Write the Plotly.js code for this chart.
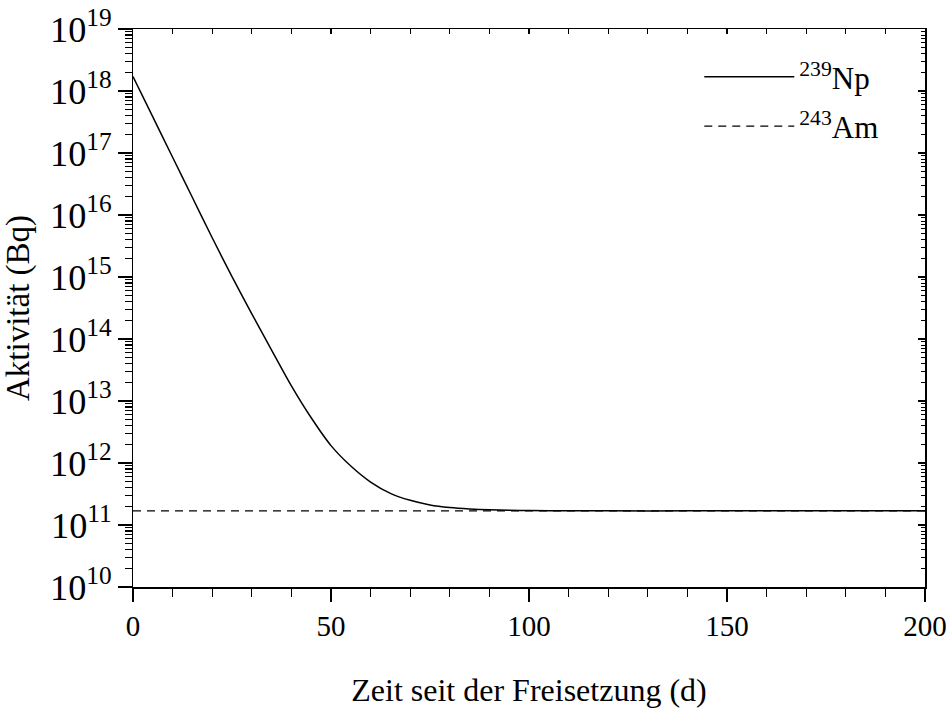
<!DOCTYPE html>
<html>
<head>
<meta charset="utf-8">
<script src="https://cdn.plot.ly/plotly-3.0.1.min.js"></script>
<style>html,body{margin:0;padding:0;background:#fff;}#chart{width:952px;height:708px;}</style>
</head>
<body>
<div id="chart"></div>
<script>
// Time since release (days)
const npDays = [0, 5, 10, 15, 20, 25, 30, 35, 40, 45, 50, 55, 60, 65, 70, 75, 80, 85, 90, 95, 100, 110, 120, 140, 160, 180, 200];
// Np-239 activity (Bq)
const npActivity = [1.706e18, 3.82e17, 8.55e16, 1.914e16, 4.29e15, 1.016e15, 2.55e14, 6.64e13, 1.755e13, 5.36e12, 1.907e12, 8.93e11, 4.93e11, 3.24e11, 2.50e11, 2.11e11, 1.92e11, 1.82e11, 1.76e11, 1.73e11, 1.71e11, 1.696e11, 1.69e11, 1.69e11, 1.69e11, 1.69e11, 1.69e11];
// Am-243 activity (Bq)
const amDays = [0, 200];
const amActivity = [1.69e11, 1.69e11];
const seriesNames = ['<sup>239</sup>Np', '<sup>243</sup>Am'];

const font = 'Liberation Serif, Times New Roman, serif';

const traces = [
  {x: npDays, y: npActivity, name: seriesNames[0], legendgroup: 'a', type: 'scatter', mode: 'lines',
   line: {color: '#000', width: 1.5, shape: 'spline', smoothing: 0.8}},
  {x: amDays, y: amActivity, name: seriesNames[1], legendgroup: 'b', type: 'scatter', mode: 'lines',
   line: {color: '#000', width: 1.3, dash: '8px,6px'}},
  {x: [0], y: [1e15], xaxis: 'x2', yaxis: 'y2', type: 'scatter', mode: 'markers',
   marker: {opacity: 0}, showlegend: false, hoverinfo: 'skip'}
];

const layout = {
  width: 952, height: 708,
  margin: {l: 133, r: 27, t: 29, b: 121},
  paper_bgcolor: '#fff', plot_bgcolor: '#fff',
  font: {family: font, color: '#000', size: 29},
  showlegend: true,
  legend: {x: 0.715, y: 0.962, xanchor: 'left', yanchor: 'top', bgcolor: 'rgba(0,0,0,0)',
           font: {family: font, size: 31}, itemwidth: 90, traceorder: 'grouped', tracegroupgap: 6},
  xaxis: {
    range: [0, 200], tickvals: [0, 50, 100, 150, 200], ticks: 'outside', ticklen: 13, tickwidth: 1.5,
    tickcolor: '#000', showline: true, linecolor: '#000', linewidth: 1.5, showgrid: false, zeroline: false,
    tickfont: {family: font, size: 29},
    minor: {dtick: 10, ticks: 'outside', ticklen: 8, tickwidth: 1.2, tickcolor: '#000', showgrid: false},
    title: {text: 'Zeit seit der Freisetzung (d)', font: {family: font, size: 32}, standoff: 38}
  },
  yaxis: {
    type: 'log', range: [10, 19], dtick: 1, exponentformat: 'power', ticks: 'outside', ticklen: 14,
    tickwidth: 1.5, tickcolor: '#000', showline: true, linecolor: '#000', linewidth: 1.5, showgrid: false,
    zeroline: false, tickfont: {family: font, size: 29},
    minor: {dtick: 'D1', ticks: 'outside', ticklen: 7, tickwidth: 1.2, tickcolor: '#000', showgrid: false},
    title: {text: 'Aktivität (Bq)', font: {family: font, size: 33}, standoff: 12}
  },
  xaxis2: {
    overlaying: 'x', side: 'top', range: [0, 200], dtick: 10, ticks: 'inside', ticklen: 5, tickwidth: 1.2,
    tickcolor: '#000', showticklabels: false, showline: true, linecolor: '#000', linewidth: 1.5,
    showgrid: false, zeroline: false
  },
  yaxis2: {
    overlaying: 'y', side: 'right', type: 'log', range: [10, 19], dtick: 1, ticks: 'inside', ticklen: 7,
    tickwidth: 1.2, tickcolor: '#000', showticklabels: false, showline: true, linecolor: '#000', linewidth: 1.5,
    showgrid: false, zeroline: false,
    minor: {dtick: 'D1', ticks: 'inside', ticklen: 4, tickwidth: 1, tickcolor: '#000', showgrid: false}
  }
};

Plotly.newPlot('chart', traces, layout, {staticPlot: true, displayModeBar: false});
</script>
</body>
</html>
